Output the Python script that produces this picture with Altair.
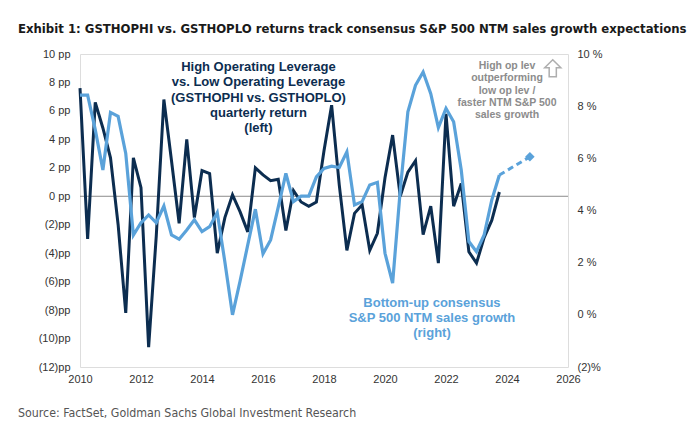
import altair as alt
import pandas as pd

# ---- data ----
quarters = [2010 + 0.25 * i for i in range(56)]

high_vs_low_return_pp = [7.6, -3.0, 6.6, 4.8, 2.7, -2.0, -8.2, 2.7, 0.6, -10.6,
                         -2.8, 6.8, 2.5, -1.9, 4.0, -1.5, 1.8, 1.6, -4.0, -1.5,
                         0.1, -1.1, -2.5, 2.0, 1.5, 1.1, 1.2, -2.4, 0.4, -0.4,
                         -0.7, -0.4, 3.2, 6.4, 0.8, -3.8, -1.2, -0.6, -3.8, -2.6,
                         1.3, 4.3, 0.0, 1.7, 2.5, -2.7, -0.7, -4.7, 5.8, -0.7,
                         0.9, -3.9, -4.7, -2.9, -1.7, 0.3]

ntm_sales_growth_pct = [8.42, 8.42, 7.1, 5.55, 7.76, 7.61, 6.19, 3.06, 3.53, 3.83,
                        3.53, 4.17, 3.06, 2.90, 3.25, 3.64, 3.19, 3.38, 3.92, 2.03,
                        0.0, 1.30, 2.68, 4.05, 2.34, 2.87, 4.13, 5.42, 4.34, 4.55,
                        4.55, 5.29, 5.61, 5.70, 5.65, 6.25, 4.21, 4.34, 4.98, 5.08,
                        2.36, 1.22, 4.78, 7.78, 8.80, 9.31, 8.48, 7.18, 7.91, 7.40,
                        5.55, 2.81, 2.42, 3.06, 4.40, 5.36]

forecast_dates = [2023.75, 2024.75]
forecast_values = [5.36, 6.06]

left_ticks = [-12, -10, -8, -6, -4, -2, 0, 2, 4, 6, 8, 10]
right_ticks = [-2, 0, 2, 4, 6, 8, 10]
year_ticks = [2010, 2012, 2014, 2016, 2018, 2020, 2022, 2024, 2026]

title_text = "Exhibit 1: GSTHOPHI vs. GSTHOPLO returns track consensus S&P 500 NTM sales growth expectations"
source_text = "Source: FactSet, Goldman Sachs Global Investment Research"

dark_label = ["High Operating Leverage", "vs. Low Operating Leverage",
              "(GSTHOPHI  vs. GSTHOPLO)", "quarterly return", "(left)"]
light_label = ["Bottom-up  consensus", "S&P 500 NTM sales growth", "(right)"]
gray_label = ["High op lev", "outperforming", "low op lev /",
              "faster NTM S&P 500", "sales growth"]

DARK = "#0c2d50"
LIGHT = "#5aa2da"
GRAY = "#8c8c8c"
FONT = "Liberation Sans"
COND = "DejaVu Sans Condensed, Liberation Sans, sans-serif"

df = pd.DataFrame({"date": quarters, "ret": high_vs_low_return_pp,
                   "sales": ntm_sales_growth_pct})
fc = pd.DataFrame({"date": forecast_dates, "sales": forecast_values})

xscale = alt.Scale(domain=[2010, 2026], nice=False, zero=False)
xaxis = alt.Axis(values=year_ticks, format="d", ticks=False, domain=False,
                 grid=False, labelFlush=False, labelPadding=6, labelFontSize=11,
                 labelColor="#333333", labelFont=FONT, title=None)
lscale = alt.Scale(domain=[-12, 10], nice=False, zero=False)
rscale = alt.Scale(domain=[-2, 10], nice=False, zero=False)

laxis = alt.Axis(orient="left", values=left_ticks, ticks=False, domain=False,
                 grid=False, labelPadding=10, labelFontSize=11, labelOverlap=False,
                 labelColor="#333333", labelFont=FONT, title=None,
                 labelExpr="datum.value >= 0 ? datum.value + ' pp' : '(' + abs(datum.value) + ')pp'")
raxis = alt.Axis(orient="right", values=right_ticks, ticks=False, domain=False,
                 grid=False, labelPadding=9, labelFontSize=11, labelOverlap=False,
                 labelColor="#333333", labelFont=FONT, title=None,
                 labelExpr="datum.value >= 0 ? datum.value + ' %' : '(' + abs(datum.value) + ')%'")

zero = alt.Chart(pd.DataFrame({"z": [0]})).mark_rule(color=GRAY, strokeWidth=1).encode(
    y=alt.Y("z:Q", scale=lscale, axis=laxis))

dark_line = alt.Chart(df).mark_line(color=DARK, strokeWidth=3).encode(
    x=alt.X("date:Q", scale=xscale, axis=xaxis),
    y=alt.Y("ret:Q", scale=lscale, axis=laxis))

ann = pd.DataFrame({
    "x": [2015.85, 2021.54, 2024.0],
    "y": [9.5, -7.1, 9.5],
    "t": [dark_label, light_label, gray_label],
})

dark_txt = alt.Chart(ann.iloc[[0]]).mark_text(
    font=FONT, fontSize=13, fontWeight="bold", color=DARK, align="center",
    baseline="top", lineHeight=15.3).encode(
    x=alt.X("x:Q", scale=xscale, axis=xaxis),
    y=alt.Y("y:Q", scale=lscale, axis=laxis), text="t")

light_txt = alt.Chart(ann.iloc[[1]]).mark_text(
    font=FONT, fontSize=13, fontWeight="bold", color=LIGHT, align="center",
    baseline="top", lineHeight=15).encode(
    x=alt.X("x:Q", scale=xscale, axis=xaxis),
    y=alt.Y("y:Q", scale=lscale, axis=laxis), text="t")

gray_txt = alt.Chart(ann.iloc[[2]]).mark_text(
    font=FONT, fontSize=10.5, fontWeight="bold", color=GRAY, align="center",
    baseline="top", lineHeight=12.3).encode(
    x=alt.X("x:Q", scale=xscale, axis=xaxis),
    y=alt.Y("y:Q", scale=lscale, axis=laxis), text="t")

arrow_path = "M0,-1 L0.95,-0.05 L0.42,-0.05 L0.42,1 L-0.42,1 L-0.42,-0.05 L-0.95,-0.05 Z"
arrow = alt.Chart(pd.DataFrame({"x": [2025.5], "y": [9.0]})).mark_point(
    shape=arrow_path, filled=False, stroke=GRAY, strokeWidth=1.5, size=290).encode(
    x=alt.X("x:Q", scale=xscale, axis=xaxis),
    y=alt.Y("y:Q", scale=lscale, axis=laxis))

source = alt.Chart(pd.DataFrame({"s": [source_text]})).mark_text(
    font=COND, fontSize=12.3, color="#555555", align="left",
    baseline="middle").encode(x=alt.value(-62), y=alt.value(359), text="s")

left = alt.layer(zero, dark_line, dark_txt, light_txt, gray_txt, arrow, source)

light_line = alt.Chart(df).mark_line(color=LIGHT, strokeWidth=3.2).encode(
    x=alt.X("date:Q", scale=xscale, axis=xaxis),
    y=alt.Y("sales:Q", scale=rscale, axis=raxis))
fc_line = alt.Chart(fc).mark_line(color=LIGHT, strokeWidth=3, strokeDash=[6, 4]).encode(
    x=alt.X("date:Q", scale=xscale, axis=xaxis),
    y=alt.Y("sales:Q", scale=rscale, axis=raxis))
fc_pt = alt.Chart(fc.iloc[[1]]).mark_point(shape="diamond", filled=True, color=LIGHT,
                                           size=90, opacity=1).encode(
    x=alt.X("date:Q", scale=xscale, axis=xaxis),
    y=alt.Y("sales:Q", scale=rscale, axis=raxis))

right = alt.layer(light_line, fc_line, fc_pt)

chart = alt.layer(left, right).resolve_scale(y="independent").properties(
    width=488, height=313,
    padding={"left": 80, "top": 54, "right": 132, "bottom": 78},
    autosize=alt.AutoSizeParams(type="none"),
    title=alt.TitleParams(text=title_text, anchor="start", frame="group", dx=-62,
                          dy=11, offset=13, baseline="alphabetic",
                          font=COND, fontSize=13,
                          fontWeight="bold", color="#1a1a1a"),
).configure_view(stroke="#a0a0a0", strokeWidth=1).configure(background="white")

chart.save("out.html", embed_options={"renderer": "svg", "actions": False})
